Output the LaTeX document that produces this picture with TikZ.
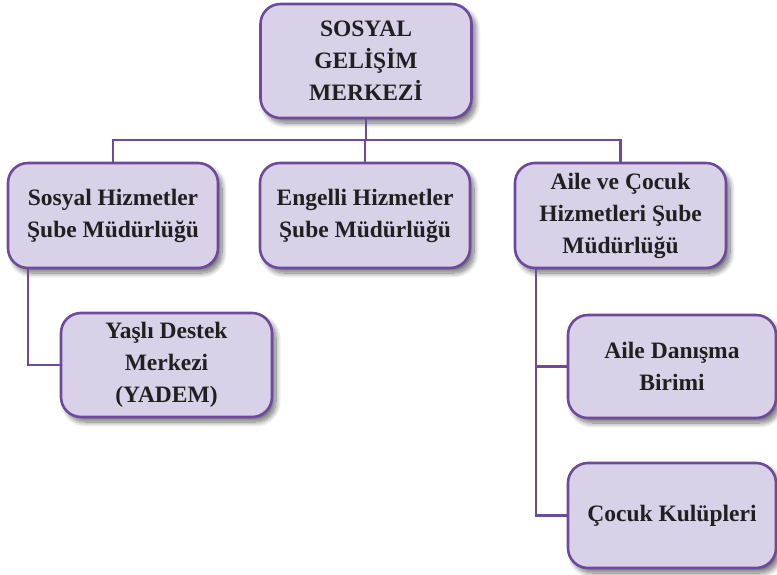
\documentclass[tikz,border=0pt]{standalone}
\usepackage{fontspec}
\setmainfont{Liberation Serif}
\usetikzlibrary{shadows.blur}
\definecolor{boxfill}{RGB}{217,209,232}
\definecolor{boxline}{RGB}{110,74,156}
\definecolor{txt}{RGB}{35,31,32}
\tikzset{
  orgbox/.style={rectangle, rounded corners=20pt, draw=boxline, line width=2.6pt,
    fill=boxfill, align=center, text=txt, inner sep=0pt,
    font=\fontsize{23.5}{32}\selectfont\bfseries,
    blur shadow={shadow xshift=4pt, shadow yshift=-5pt, shadow blur radius=5pt,
      shadow opacity=55, shadow blur steps=12}},
  link/.style={draw=boxline, line width=2.2pt}
}
\begin{document}
\begin{tikzpicture}[x=1pt,y=-1pt]
\useasboundingbox (0,0) rectangle (777,575);
\node[orgbox, minimum width=211pt, minimum height=114pt] (top) at (366,61) {SOSYAL\\GELİŞİM\\MERKEZİ};
\node[orgbox, minimum width=210pt, minimum height=105pt] (sh) at (113,215.5) {Sosyal Hizmetler\\Şube Müdürlüğü};
\node[orgbox, minimum width=210pt, minimum height=105pt] (eh) at (365,215.5) {Engelli Hizmetler\\Şube Müdürlüğü};
\node[orgbox, minimum width=211pt, minimum height=105pt] (ac) at (620.5,215.5) {Aile ve Çocuk\\Hizmetleri Şube\\Müdürlüğü};
\node[orgbox, minimum width=211pt, minimum height=104pt] (yd) at (166.5,365) {Yaşlı Destek\\Merkezi\\(YADEM)};
\node[orgbox, minimum width=208pt, minimum height=103pt] (ad) at (672,366.5) {Aile Danışma\\Birimi};
\node[orgbox, minimum width=208pt, minimum height=105pt] (ck) at (672,515.5) {Çocuk Kulüpleri};
\coordinate (bus) at (366,140);
\draw[link] (top.south) -- (bus);
\draw[link] (sh.north) |- (bus) -| (ac.north);
\draw[link] (eh.north) -- (eh.north |- bus);
\draw[link] ([xshift=21pt]sh.south west) |- (yd.west);
\draw[link] ([xshift=22pt]ac.south west) |- (ad.west);
\draw[link] ([xshift=22pt]ac.south west) |- (ck.west);
\end{tikzpicture}
\end{document}
